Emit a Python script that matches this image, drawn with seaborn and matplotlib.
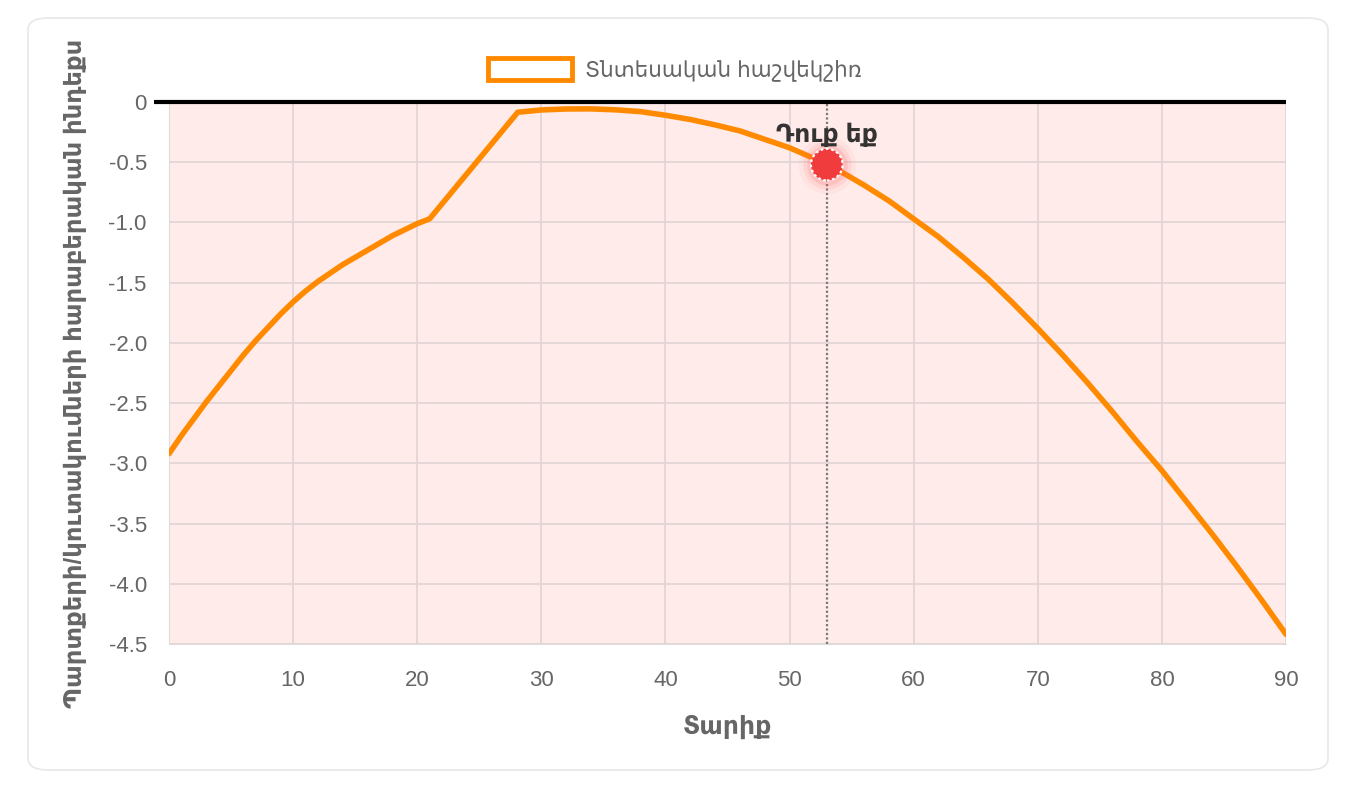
import pandas as pd
import matplotlib
matplotlib.use('Agg')
import matplotlib.pyplot as plt
import seaborn as sns
from matplotlib.patches import Patch, FancyBboxPatch
from matplotlib.ticker import FuncFormatter

# data
ages = [0, 1, 2, 3, 4, 5, 6, 7, 8, 9, 10, 11, 12, 13, 14, 15, 16, 17, 18, 19, 20, 21,
        28.1, 30, 32, 34, 36, 38, 40, 42, 44, 46, 48, 50, 52, 53, 54, 56, 58, 60,
        62, 64, 66, 68, 70, 72, 74, 76, 78, 80, 82, 84, 86, 88, 90]
balance = [-2.92, -2.77, -2.63, -2.49, -2.36, -2.23, -2.10, -1.98, -1.87, -1.76, -1.66,
           -1.57, -1.49, -1.42, -1.35, -1.29, -1.23, -1.17, -1.11, -1.06, -1.01, -0.97,
           -0.085, -0.066, -0.058, -0.057, -0.065, -0.08, -0.11, -0.145, -0.19, -0.24,
           -0.31, -0.38, -0.47, -0.52, -0.57, -0.69, -0.82, -0.97,
           -1.12, -1.29, -1.47, -1.67, -1.88, -2.10, -2.33, -2.57, -2.82, -3.06,
           -3.32, -3.58, -3.85, -4.13, -4.42]
you_age = 53
you_val = -0.52
x_ticks = [0, 10, 20, 30, 40, 50, 60, 70, 80, 90]
y_ticks = [0, -0.5, -1.0, -1.5, -2.0, -2.5, -3.0, -3.5, -4.0, -4.5]

series_name = 'Տնտեսական հաշվեկշիռ'
you_label = 'Դուք եք'
x_title = 'Տարիք'
y_title = 'Պարտքերի/կուտակումների հարաբերական ինդեքս'

df = pd.DataFrame({'age': ages, 'balance': balance})

sns.set_style('white')
plt.rcParams['font.family'] = ['Liberation Sans', 'DejaVu Sans']

fig = plt.figure(figsize=(13.5, 7.85), dpi=100)
ax = fig.add_axes([169 / 1350, 1 - 644 / 785, (1286 - 169) / 1350, (644 - 102) / 785])

# card outline
card = FancyBboxPatch((28 / 1350, 15 / 785), 1300 / 1350, 752 / 785,
                      boxstyle='round,pad=0,rounding_size=0.015',
                      transform=fig.transFigure, facecolor='white',
                      edgecolor='#e8e8e8', linewidth=1.2, zorder=-10)
fig.patches.append(card)

ax.set_facecolor('#ffebea')
sns.lineplot(data=df, x='age', y='balance', ax=ax, color='#ff8a00', linewidth=4,
             zorder=4, legend=False)

# zero line (sticks out over the tick area like the original)
ax.plot([-1.2, 90], [0, 0], color='black', linewidth=3, zorder=5, clip_on=False,
        solid_capstyle='butt')
ax.axvline(you_age, color='#7a7a7a', linewidth=1.6, linestyle=(0, (1, 1)), zorder=3)

# glow + point
for s, a in [(1700, 0.05), (1200, 0.09), (850, 0.15)]:
    ax.scatter([you_age], [you_val], s=s, color='#ff5050', alpha=a, linewidths=0, zorder=6)
ax.scatter([you_age], [you_val], s=520, color='#f03c3c', edgecolors='white',
           linewidths=1.6, linestyle=(0, (1.2, 1.2)), zorder=7)
ax.text(you_age, -0.27, you_label, ha='center', va='center', fontsize=18,
        fontweight='bold', color='#333333', zorder=8)

ax.set_xlim(0, 90)
ax.set_ylim(-4.5, 0)
ax.set_xticks(x_ticks)
ax.set_yticks(y_ticks)
ax.yaxis.set_major_formatter(FuncFormatter(lambda v, p: '0' if v == 0 else f'{v:.1f}'))
ax.grid(True, color='#e0d4d4', linewidth=1.2)
ax.tick_params(axis='both', length=11, width=1.2, color='#e2e2e2', labelsize=16,
               labelcolor='#666666')
ax.tick_params(axis='x', pad=8)
ax.tick_params(axis='y', pad=5)
for sp in ax.spines.values():
    sp.set_visible(False)
ax.spines['bottom'].set_visible(True)
ax.spines['bottom'].set_color('#dddddd')
ax.spines['left'].set_visible(True)
ax.spines['left'].set_color('#dddddd')

ax.set_xlabel(x_title, fontsize=18, fontweight='bold', color='#666666', labelpad=17)
ax.set_ylabel(y_title, fontsize=17.5, fontweight='bold', color='#666666', va='center')
ax.yaxis.set_label_coords(-0.084, 0.5)

handle = Patch(facecolor='white', edgecolor='#ff8a00', linewidth=3.5, label=series_name)
fig.legend(handles=[handle], loc='center', bbox_to_anchor=(0.5, 1 - 70 / 785),
           frameon=False, fontsize=15.5, labelcolor='#666666',
           handlelength=3.9, handleheight=1.2, handletextpad=0.6)

fig.savefig('out.png', dpi=100, facecolor='white')
